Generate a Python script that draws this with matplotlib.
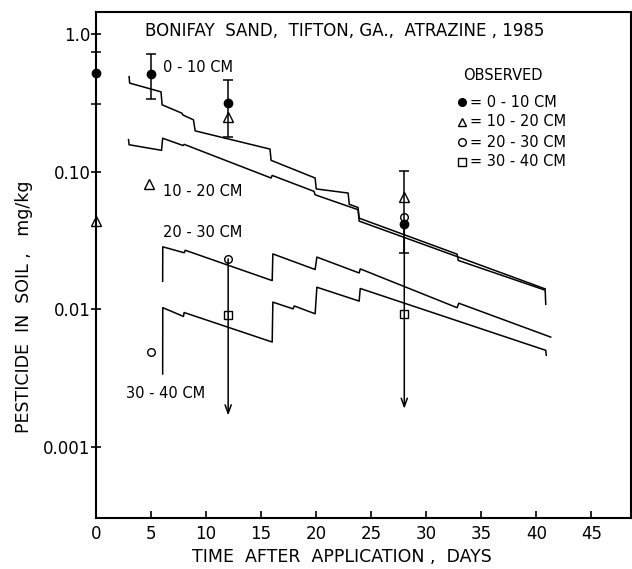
import matplotlib
matplotlib.use('Agg')
import matplotlib.pyplot as plt
from matplotlib.ticker import NullLocator

plt.rcParams['font.family'] = ['DejaVu Sans']

# simulated profiles (model), days vs mg/kg
sim_0_10_day = [3.0, 3.05, 5.9, 6.0, 7.8, 7.9, 8.85, 9.0, 15.8, 15.9, 19.9, 20.0,
                22.9, 23.0, 23.8, 23.9, 32.8, 32.9, 40.8, 40.85]
sim_0_10_val = [0.49, 0.44, 0.38, 0.306, 0.266, 0.258, 0.238, 0.198, 0.146, 0.121, 0.090, 0.075,
                0.070, 0.058, 0.055, 0.046, 0.0252, 0.0227, 0.0138, 0.0109]

sim_10_20_day = [2.95, 3.0, 5.95, 6.05, 7.9, 8.0, 15.9, 16.0, 19.8, 19.9, 23.8, 23.9, 32.8, 40.8]
sim_10_20_val = [0.171, 0.157, 0.143, 0.175, 0.155, 0.158, 0.090, 0.094, 0.072, 0.068, 0.053, 0.0438,
                 0.0242, 0.0141]

sim_20_30_day = [6.05, 6.06, 8.0, 8.1, 16.0, 16.06, 19.9, 20.06, 23.9, 24.0, 32.8, 32.95, 41.3]
sim_20_30_val = [0.016, 0.0285, 0.0258, 0.0269, 0.0162, 0.0253, 0.0195, 0.024, 0.0184, 0.0197,
                 0.0103, 0.0111, 0.0063]

sim_30_40_day = [6.05, 6.06, 7.94, 8.0, 16.0, 16.06, 17.9, 18.0, 19.9, 20.06, 23.9, 24.0, 40.85, 40.9]
sim_30_40_val = [0.0034, 0.0103, 0.0089, 0.0095, 0.0058, 0.0113, 0.0101, 0.0106, 0.0093, 0.0145,
                 0.0115, 0.0142, 0.00505, 0.00465]

# observed
obs_0_10_day = [0, 5, 12, 28]
obs_0_10_val = [0.52, 0.51, 0.314, 0.042]
obs_0_10_lo = [0.311, 0.34, 0.18, 0.0255]
obs_0_10_hi = [0.745, 0.716, 0.46, 0.102]

obs_10_20_day = [0, 4.8, 12, 28]
obs_10_20_val = [0.0436, 0.082, 0.25, 0.066]

obs_20_30_day = [5.0, 12, 28]
obs_20_30_val = [0.0049, 0.0233, 0.047]

obs_30_40_day = [12, 28]
obs_30_40_val = [0.0091, 0.0092]

# below-detection arrows: day, from, to
arrow_day = [12, 28]
arrow_from = [0.0233, 0.042]
arrow_to = [0.0017, 0.0019]

xticks = [0, 5, 10, 15, 20, 25, 30, 35, 40, 45]
yticks = [1.0, 0.1, 0.01, 0.001]
ytick_labels = ['1.0', '0.10', '0.01', '0.001']

fig = plt.figure(figsize=(6.32, 5.69), dpi=100)
ax = fig.add_axes([0.152, 0.0896, 0.8465, 0.889])
ax.set_yscale('log')

for d, v in [(sim_0_10_day, sim_0_10_val), (sim_10_20_day, sim_10_20_val),
             (sim_20_30_day, sim_20_30_val), (sim_30_40_day, sim_30_40_val)]:
    ax.plot(d, v, color='black', lw=1.1)

yerr = [[v - lo for v, lo in zip(obs_0_10_val, obs_0_10_lo)],
        [hi - v for v, hi in zip(obs_0_10_val, obs_0_10_hi)]]
eb = ax.errorbar(obs_0_10_day, obs_0_10_val, yerr=yerr, fmt='o', color='black', ms=6,
                 capsize=3.5, elinewidth=1.1, capthick=1.1, zorder=5)
for a in eb.get_children():
    a.set_clip_on(False)

ax.plot(obs_10_20_day, obs_10_20_val, '^', mfc='none', mec='black', ms=6.5, mew=1.0,
        clip_on=False, zorder=5)
ax.plot(obs_20_30_day, obs_20_30_val, 'o', mfc='none', mec='black', ms=5.5, mew=1.0,
        clip_on=False, zorder=5)
ax.plot(obs_30_40_day, obs_30_40_val, 's', mfc='none', mec='black', ms=5.5, mew=1.0,
        clip_on=False, zorder=5)

for d, a, b in zip(arrow_day, arrow_from, arrow_to):
    ax.annotate('', xy=(d, b), xytext=(d, a),
                arrowprops=dict(arrowstyle='->,head_length=0.6,head_width=0.22',
                                color='black', lw=1.1, shrinkA=0, shrinkB=0))

# curve labels
ax.text(6.1, 0.57, '0 - 10 CM', fontsize=10.5, va='center')
ax.text(6.1, 0.0716, '10 - 20 CM', fontsize=10.5, va='center')
ax.text(6.1, 0.036, '20 - 30 CM', fontsize=10.5, va='center')
ax.text(2.7, 0.00246, '30 - 40 CM', fontsize=10.5, va='center')

ax.text(0.092, 0.962, 'BONIFAY  SAND,  TIFTON, GA.,  ATRAZINE , 1985',
        transform=ax.transAxes, fontsize=12, va='center')

# legend drawn by hand
ax.text(0.686, 0.875, 'OBSERVED', transform=ax.transAxes, fontsize=10.5, va='center')
leg_y = [0.822, 0.783, 0.743, 0.704]
leg_mk = ['o', '^', 'o', 's']
leg_fill = ['black', 'none', 'none', 'none']
leg_txt = ['= 0 - 10 CM', '= 10 - 20 CM', '= 20 - 30 CM', '= 30 - 40 CM']
for y, m, f, t in zip(leg_y, leg_mk, leg_fill, leg_txt):
    ax.plot([0.684], [y], m, mfc=f, mec='black', ms=5.5, mew=1.0, transform=ax.transAxes)
    ax.text(0.699, y, t, transform=ax.transAxes, fontsize=10.5, va='center')

ax.set_xlim(0, 48.6)
ax.set_ylim(3.06e-4, 1.44)
ax.set_xticks(xticks)
ax.set_yticks(yticks)
ax.set_yticklabels(ytick_labels)
ax.yaxis.set_minor_locator(NullLocator())
ax.tick_params(axis='x', direction='in', length=5, width=1.2, labelsize=12, pad=5)
ax.tick_params(axis='y', direction='inout', length=7, width=1.2, labelsize=12, pad=0.5)
for s in ax.spines.values():
    s.set_linewidth(1.5)

fig.text(0.541, 0.021, 'TIME  AFTER  APPLICATION ,  DAYS', fontsize=12.5, ha='center', va='center')
fig.text(0.038, 0.4605, 'PESTICIDE  IN  SOIL ,   mg/kg', fontsize=12.5, rotation=90,
         ha='center', va='center')

fig.savefig('out.png', dpi=100)
